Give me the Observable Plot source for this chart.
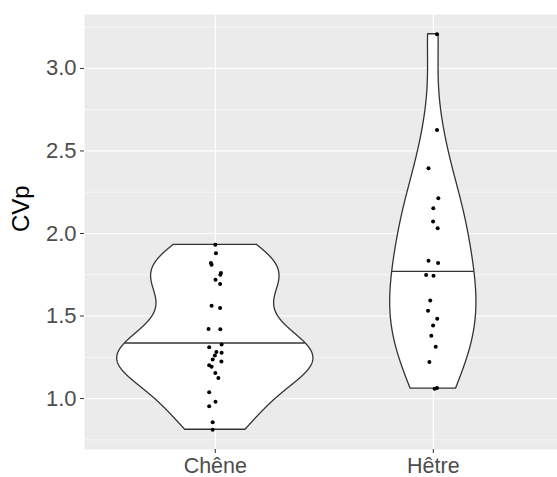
<!DOCTYPE html>
<html><head><meta charset="utf-8">
<script src="https://cdn.jsdelivr.net/npm/d3@7"></script>
<script src="https://cdn.jsdelivr.net/npm/@observablehq/plot@0.6"></script>
<style>
html,body{margin:0;padding:0;background:#fff}
</style>
</head><body><div id="chart"></div>
<script>
// ---- data ----
const categories = ["Chêne", "Hêtre"];
const cheneCVp = [1.931, 1.881, 1.821, 1.810, 1.760, 1.750, 1.720, 1.694, 1.562, 1.549,
                  1.422, 1.420, 1.327, 1.310, 1.282, 1.278, 1.260, 1.236, 1.225, 1.201,
                  1.192, 1.155, 1.125, 1.038, 0.980, 0.953, 0.857, 0.811];
const cheneJitter = [0, 0.003, -0.020, -0.017, 0.026, 0.023, 0.001, 0.022, -0.017, 0.022,
                     -0.031, 0.023, 0.029, -0.028, 0.005, 0.029, -0.002, -0.012, 0.028, -0.028,
                     -0.017, 0, 0.014, -0.028, 0.001, -0.028, -0.012, -0.012];
const hetreCVp = [3.207, 2.627, 2.395, 2.214, 2.153, 2.072, 2.032, 1.835, 1.821, 1.748,
                  1.744, 1.594, 1.532, 1.484, 1.442, 1.381, 1.313, 1.222, 1.060, 1.064];
const hetreJitter = [0.017, 0.017, -0.022, 0.023, 0, -0.001, 0.020, -0.022, 0.022, -0.033,
                     0.001, -0.014, -0.024, 0.018, -0.001, -0.009, 0.011, -0.018, 0.006, 0.017];
const yTicks = [1.0, 1.5, 2.0, 2.5, 3.0];
const yMinorTicks = [0.75, 1.25, 1.75, 2.25, 2.75, 3.25];
const yLabel = "CVp";

// ---- violin statistics (like ggplot2 stat_ydensity, trim = TRUE, scale = "count") ----
function q7(sorted, p) {
  const h = (sorted.length - 1) * p, lo = Math.floor(h), hi = Math.ceil(h);
  return sorted[lo] + (h - lo) * (sorted[hi] - sorted[lo]);
}
function bwNrd0(v) {
  const s = [...v].sort((a, b) => a - b);
  const sd = d3.deviation(v);
  const iqr = q7(s, 0.75) - q7(s, 0.25);
  const lo = Math.min(sd, iqr / 1.34);
  return 0.9 * lo * Math.pow(v.length, -0.2);
}
function kde(values) {
  const bw = bwNrd0(values);
  const mn = d3.min(values), mx = d3.max(values), n = 512;
  const out = [];
  for (let i = 0; i < n; i++) {
    const y = mn + (mx - mn) * i / (n - 1);
    let s = 0;
    for (const v of values) { const u = (y - v) / bw; s += Math.exp(-0.5 * u * u); }
    const density = s / (values.length * bw * Math.sqrt(2 * Math.PI));
    out.push({y, density, count: density * values.length});
  }
  return out;
}
const groups = [cheneCVp, hetreCVp].map((vals, i) => ({cat: categories[i], idx: i + 1, dens: kde(vals)}));
const maxC = d3.max(groups, g => d3.max(g.dens, d => d.count));
const violinRows = [];
const medianRows = [];
for (const g of groups) {
  for (const d of g.dens) {
    const w = d.count / maxC * 0.45;
    violinRows.push({cat: g.cat, y: d.y, x1: g.idx - w, x2: g.idx + w});
  }
  const total = d3.sum(g.dens, d => d.density);
  let c = 0, prevC = 0, qy = g.dens[0].y, qw = 0;
  for (let i = 0; i < g.dens.length; i++) {
    prevC = c; c += g.dens[i].density / total;
    if (c >= 0.5) {
      const t = i === 0 ? 0 : (0.5 - prevC) / (c - prevC);
      const a = g.dens[Math.max(0, i - 1)], b = g.dens[i];
      qy = a.y + t * (b.y - a.y);
      const cc = a.count + t * (b.count - a.count);
      qw = cc / maxC * 0.45;
      break;
    }
  }
  medianRows.push({y: qy, x1: g.idx - qw, x2: g.idx + qw});
}
const points = [
  ...cheneCVp.map((v, i) => ({cat: categories[0], x: 1 + cheneJitter[i], y: v})),
  ...hetreCVp.map((v, i) => ({cat: categories[1], x: 2 + hetreJitter[i], y: v}))
];
const allVals = [...cheneCVp, ...hetreCVp];
const yMin = d3.min(allVals), yMax = d3.max(allVals);
const yPad = (yMax - yMin) * 0.05;

const W = 557, H = 477, mL = 84, mT = 14, mB = 28;
const step = 218; // pixels per category
const chart = Plot.plot({
  width: W, height: H,
  marginLeft: mL, marginRight: 0, marginTop: mT, marginBottom: mB,
  style: {fontFamily: "'Liberation Sans', Arial, Helvetica, sans-serif", background: "white", overflow: "hidden"},
  x: {domain: [0.4, 0.4 + (W - mL) / step], axis: null},
  y: {domain: [yMin - yPad, yMax + yPad], axis: null},
  marks: [
    Plot.frame({fill: "#EBEBEB", stroke: "none"}),
    Plot.ruleY(yMinorTicks, {stroke: "white", strokeWidth: 0.6}),
    Plot.ruleY(yTicks, {stroke: "white", strokeWidth: 1.2}),
    Plot.ruleX([1, 2], {stroke: "white", strokeWidth: 1.2}),
    Plot.areaX(violinRows, {y: "y", x1: "x1", x2: "x2", z: "cat", fill: "white", stroke: "#333333", strokeWidth: 1.3}),
    Plot.ruleY(medianRows, {y: "y", x1: "x1", x2: "x2", stroke: "#333333", strokeWidth: 1.3}),
    Plot.dot(points, {x: "x", y: "y", r: 2, fill: "black", stroke: "none"}),
    Plot.axisY(yTicks, {tickFormat: d3.format(".1f"), tickSize: 4, tickPadding: 4, fontSize: 22, fill: "#4D4D4D", stroke: "#333333", label: null}),
    Plot.axisX([1, 2], {tickFormat: d => categories[d - 1], tickSize: 4, tickPadding: 4, fontSize: 21.5, fill: "#4D4D4D", stroke: "#333333", label: null}),
    Plot.text([yLabel], {frameAnchor: "left", dx: -63, rotate: -90, fontSize: 24, fill: "black"})
  ]
});
document.getElementById("chart").appendChild(chart);
</script>
</body></html>
